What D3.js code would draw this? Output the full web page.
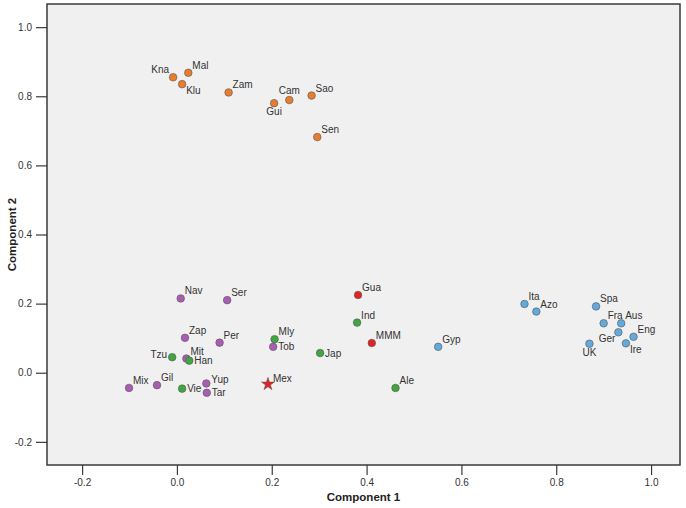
<!DOCTYPE html>
<html>
<head>
<meta charset="utf-8">
<script src="https://cdn.jsdelivr.net/npm/d3@7"></script>
<style>
  body { margin: 0; background: #fff; }
  text { font-family: "Liberation Sans", Arial, sans-serif; }
</style>
</head>
<body>
<svg id="chart" width="686" height="508"></svg>
<script>
// point names, component scores, group
var names = ["Kna","Mal","Klu","Zam","Gui","Cam","Sao","Sen",
  "Nav","Ser","Zap","Per","Mly","Tob","Tzu","Mit","Han","Mix","Gil","Vie","Yup","Tar","Mex",
  "Gua","Ind","MMM","Jap","Gyp","Ale",
  "Ita","Azo","Spa","Fra","Aus","Ger","Eng","Ire","UK"];
var comp1 = [-0.008,0.024,0.011,0.109,0.205,0.237,0.284,0.296,
  0.008,0.106,0.017,0.090,0.206,0.203,-0.010,0.020,0.026,-0.101,-0.042,0.011,0.062,0.063,0.192,
  0.382,0.380,0.411,0.302,0.551,0.461,
  0.733,0.758,0.884,0.900,0.937,0.931,0.963,0.947,0.870];
var comp2 = [0.855,0.868,0.835,0.811,0.780,0.789,0.802,0.682,
  0.215,0.210,0.101,0.087,0.097,0.075,0.045,0.041,0.035,-0.044,-0.036,-0.046,-0.031,-0.058,-0.033,
  0.225,0.145,0.086,0.057,0.075,-0.044,
  0.199,0.177,0.192,0.143,0.143,0.117,0.104,0.085,0.084];
var groups = ["o","o","o","o","o","o","o","o",
  "p","p","p","p","g","p","g","p","g","p","p","g","p","p","star",
  "r","g","r","g","b","g",
  "b","b","b","b","b","b","b","b","b"];
var xTicks = [-0.2, 0.0, 0.2, 0.4, 0.6, 0.8, 1.0];
var yTicks = [-0.2, 0.0, 0.2, 0.4, 0.6, 0.8, 1.0];

// label placement around the marker
var labelPos = {Kna:"nw",Klu:"se",Cam:"n",Gui:"s",Tob:"e",Tzu:"w",Han:"e",Vie:"e",Yup:"e2",Tar:"e",
  Jap:"e",Ger:"sw",Ire:"se",UK:"s",Mex:"ne2"};
var colors = {o:"#e87d2e", p:"#aa5cb4", g:"#40a640", r:"#e02424", star:"#e02424", b:"#62a9dc"};

var svg = d3.select("#chart");
var pLeft = 47, pRight = 680, pTop = 4, pBottom = 465;

var x = d3.scaleLinear().domain([-0.274, 1.061]).range([pLeft, pRight]);
var y = d3.scaleLinear().domain([-0.267, 1.067]).range([pBottom, pTop]);

svg.append("rect")
  .attr("x", pLeft).attr("y", pTop)
  .attr("width", pRight - pLeft).attr("height", pBottom - pTop)
  .attr("fill", "#f0f0f0").attr("stroke", "#3a3a3a").attr("stroke-width", 1.5);

var fmt = function(v){ return v.toFixed(1); };
var xAxis = svg.append("g").attr("transform", "translate(0," + pBottom + ")")
  .call(d3.axisBottom(x).tickValues(xTicks).tickFormat(fmt).tickSize(10).tickSizeOuter(0).tickPadding(4));
var yAxis = svg.append("g").attr("transform", "translate(" + pLeft + ",0)")
  .call(d3.axisLeft(y).tickValues(yTicks).tickFormat(fmt).tickSize(11).tickSizeOuter(0).tickPadding(4));
[xAxis, yAxis].forEach(function(a){
  a.select(".domain").remove();
  a.selectAll(".tick line").attr("stroke", "#3a3a3a").attr("stroke-width", 1.2);
  a.selectAll(".tick text").attr("fill", "#333").style("font-size", "10px")
    .style("font-family", "'Liberation Sans', Arial, sans-serif");
});

svg.append("text").attr("x", (pLeft + pRight) / 2).attr("y", 501)
  .attr("text-anchor", "middle").style("font-size", "11.5px").style("font-weight", "bold")
  .attr("fill", "#222").text("Component 1");
svg.append("text").attr("transform", "translate(16," + (pTop + pBottom) / 2 + ") rotate(-90)")
  .attr("text-anchor", "middle").style("font-size", "11.5px").style("font-weight", "bold")
  .attr("fill", "#222").text("Component 2");

var pts = names.map(function(n, i){ return {name:n, c1:comp1[i], c2:comp2[i], g:groups[i]}; });

var mark = svg.append("g").selectAll("g").data(pts).enter().append("g")
  .attr("transform", function(d){ return "translate(" + x(d.c1) + "," + y(d.c2) + ")"; });

mark.filter(function(d){ return d.g !== "star"; }).append("circle")
  .attr("r", 3.8)
  .attr("fill", function(d){ return colors[d.g]; })
  .attr("stroke", "#555").attr("stroke-width", 0.6);
mark.filter(function(d){ return d.g === "star"; }).append("path")
  .attr("d", d3.symbol().type(d3.symbolStar).size(52))
  .attr("fill", function(d){ return colors[d.g]; })
  .attr("stroke", "#555").attr("stroke-width", 0.5);

var off = {
  ne:[4,-4,"start"], ne2:[5,-2,"start"], nw:[-4,-4,"end"], n:[0,-6,"middle"], s:[0,12,"middle"],
  e:[5,3.5,"start"], e2:[5,0,"start"], w:[-5,1,"end"], se:[4,10,"start"], sw:[-3,10,"end"]
};
mark.append("text")
  .attr("x", function(d){ return off[labelPos[d.name] || "ne"][0]; })
  .attr("y", function(d){ return off[labelPos[d.name] || "ne"][1]; })
  .attr("text-anchor", function(d){ return off[labelPos[d.name] || "ne"][2]; })
  .style("font-size", "10px").attr("fill", "#333")
  .text(function(d){ return d.name; });
</script>
</body>
</html>
